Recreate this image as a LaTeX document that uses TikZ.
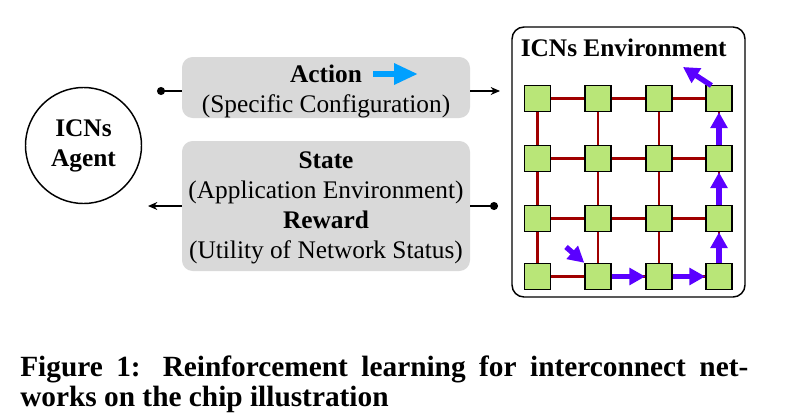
\documentclass[tikz,border=0pt]{standalone}
\usepackage{fontspec}
\setmainfont{Liberation Serif}
\usetikzlibrary{arrows.meta,shapes}
\newcommand{\txtsize}{\fontsize{19}{22.5}\selectfont}
\newcommand{\capsize}{\fontsize{22}{22.5}\selectfont}
\definecolor{boxgray}{RGB}{217,217,217}
\definecolor{routergreen}{RGB}{185,230,120}
\definecolor{linkred}{RGB}{160,0,0}
\definecolor{pathblue}{RGB}{90,0,255}
\definecolor{actcyan}{RGB}{0,160,255}

\begin{document}
\begin{tikzpicture}[x=0.75pt,y=-0.75pt,font=\txtsize]
            %\draw[help lines] (0,0) grid (799,414);
            \tikzset{
              graybox/.style = {fill=boxgray, rounded corners=8pt, minimum width=216pt, inner sep=0pt},
              router/.style  = {draw, line width=1.1pt, fill=routergreen, minimum size=19.5pt, inner sep=0pt},
              link/.style    = {linkred, line width=2.2pt},
              hop/.style     = {pathblue, line width=4pt, -{Triangle[length=12pt,width=12.5pt]}},
              conn/.style    = {line width=1pt}
            }
            \useasboundingbox (0,0) rectangle (799,414);
            % agent
            \node[draw, circle, line width=1.1pt, minimum size=87pt, inner sep=0pt, align=center] (agent) at (83.5,145.5) {\textbf{ICNs}\\\textbf{Agent}};
            % action / state boxes
            \node[graybox, minimum height=45.75pt] (act) at (326,87.5) {};
            \node[graybox, minimum height=97.5pt] (state) at (326,206) {};
            \node[align=center, inner sep=0pt] (acttxt) at (326,91.5) {\textbf{Action}\\(Specific Configuration)};
            \node[align=center, inner sep=0pt] (statetxt) at (326,208) {\textbf{State}\\(Application Environment)\\\textbf{Reward}\\(Utility of Network Status)};
            \coordinate (cyanstart) at (373,74);
            \coordinate (cyanend) at (418,74);
            \draw[actcyan, line width=4.5pt, -{Triangle[length=18pt,width=15pt]}] (cyanstart) -- (cyanend);
            % connectors
            \coordinate (actin) at (157,91);
            \coordinate (actout) at (500,91);
            \coordinate (statein) at (498,206);
            \coordinate (stateout) at (148,206);
            \draw[conn, {Circle[length=6pt]}-] (actin) -- (act.west |- actin);
            \draw[conn, -{Stealth[length=7pt,width=6pt]}] (act.east |- actout) -- (actout);
            \draw[conn, {Circle[length=6pt]}-] (statein) -- (state.east |- statein);
            \draw[conn, -{Stealth[length=7pt,width=6pt]}] (state.west |- stateout) -- (stateout);
            % environment
            \node[draw, line width=1.1pt, rounded corners=9pt, minimum width=174.75pt, minimum height=202.5pt] (env) at (628.5,162) {};
            \node[anchor=base, inner sep=0pt] (envtitle) at (623.7,56) {\textbf{ICNs Environment}};
            \foreach \x [count=\i] in {537.5,598,659,719}
              \foreach \y [count=\j] in {98.5,158.5,218.5,276.5}
                \node[router] (r\i\j) at (\x,\y) {};
            \foreach \i/\k in {1/2,2/3,3/4}
              \foreach \j in {1,...,4} {
                \draw[link] (r\i\j) -- (r\k\j);
                \draw[link] (r\j\i) -- (r\j\k);
              }
            % routing path
            \coordinate (pathin) at (566,247);
            \coordinate (pathout) at (683,67);
            \draw[hop] (pathin) -- (r24.north west);
            \draw[hop] (r24) -- (r34);
            \draw[hop] (r34) -- (r44);
            \draw[hop] (r44) -- (r43);
            \draw[hop] (r43) -- (r42);
            \draw[hop] (r42) -- (r41);
            \draw[hop, shorten <=-1pt] (r41.north west) ++(5,0) -- (pathout);
            % caption
            \node[anchor=base west, inner sep=0pt] (capone) at (20,376) {\capsize\bfseries\makebox[546pt][s]{Figure 1: Reinforcement learning for interconnect net-}};
            \node[anchor=base west, inner sep=0pt] (captwo) at (20,406) {\capsize\bfseries works on the chip illustration};
        \end{tikzpicture}
\end{document}
